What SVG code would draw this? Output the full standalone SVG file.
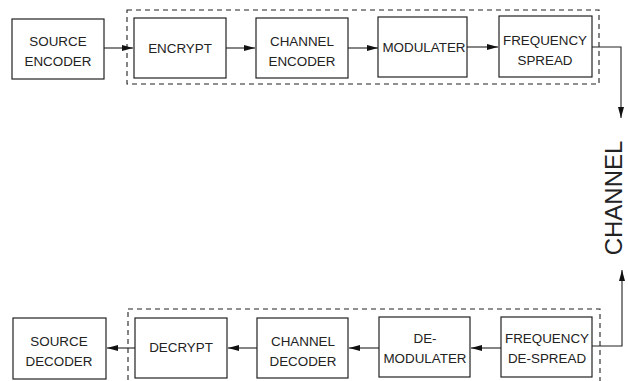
<svg xmlns="http://www.w3.org/2000/svg" width="628" height="381" viewBox="0 0 628 381">
<defs>
<marker id="ah" viewBox="0 0 11 6" refX="11" refY="3" markerWidth="11" markerHeight="6" markerUnits="userSpaceOnUse" orient="auto">
<path d="M0,0 L11,3 L0,6 Z" fill="#111"/>
</marker>
<style>
.box{fill:#fff;stroke:#222;stroke-width:1.2}
.grp{fill:none;stroke:#222;stroke-width:1.1;stroke-dasharray:5,4}
.t{font-family:"Liberation Sans",Arial,sans-serif;font-size:13.4px;fill:#222;text-anchor:middle}
.c{fill:none;stroke:#222;stroke-width:1.1;marker-end:url(#ah)}
</style>
</defs>
<rect width="628" height="381" fill="#fff"/>
<g id="groups">
<rect class="grp" x="127" y="10" width="472" height="74"/>
<rect class="grp" x="128" y="309" width="472" height="90"/>
</g>
<g id="connectors">
<line class="c" x1="104" y1="48" x2="133" y2="48"/>
<line class="c" x1="226" y1="48" x2="255" y2="48"/>
<line class="c" x1="348" y1="48" x2="378" y2="48"/>
<line class="c" x1="467" y1="47" x2="498" y2="47"/>
<polyline class="c" points="592,47 621,47 621,118"/>
<polyline class="c" points="592,346 622,346 622,270"/>
<line class="c" x1="501" y1="348" x2="471" y2="348"/>
<line class="c" x1="379" y1="348" x2="349" y2="348"/>
<line class="c" x1="257" y1="348" x2="228" y2="348"/>
<line class="c" x1="135" y1="348" x2="107" y2="348"/>
</g>
<g id="source-encoder"><rect class="box" x="12" y="19" width="92" height="60"/><text class="t" x="58" y="46">SOURCE</text><text class="t" x="58" y="66">ENCODER</text></g>
<g id="encrypt"><rect class="box" x="134" y="18" width="92" height="60"/><text class="t" x="180" y="53">ENCRYPT</text></g>
<g id="channel-encoder"><rect class="box" x="256" y="18" width="92" height="60"/><text class="t" x="302" y="46">CHANNEL</text><text class="t" x="302" y="66">ENCODER</text></g>
<g id="modulater"><rect class="box" x="378" y="17" width="89" height="60"/><text class="t" x="424" y="52">MODULATER</text></g>
<g id="frequency-spread"><rect class="box" x="499" y="16" width="93" height="61"/><text class="t" x="545" y="45">FREQUENCY</text><text class="t" x="545" y="65">SPREAD</text></g>
<g id="channel"><text font-family="'Liberation Sans',Arial,sans-serif" font-size="24" fill="#222" text-anchor="middle" transform="translate(622,198) rotate(-90)">CHANNEL</text></g>
<g id="source-decoder"><rect class="box" x="13" y="318" width="93" height="61"/><text class="t" x="59" y="346">SOURCE</text><text class="t" x="59" y="366">DECODER</text></g>
<g id="decrypt"><rect class="box" x="135" y="318" width="92" height="60"/><text class="t" x="181" y="352">DECRYPT</text></g>
<g id="channel-decoder"><rect class="box" x="257" y="318" width="91" height="60"/><text class="t" x="303" y="346">CHANNEL</text><text class="t" x="303" y="366">DECODER</text></g>
<g id="demodulater"><rect class="box" x="379" y="317" width="91" height="60"/><text class="t" x="425" y="343">DE-</text><text class="t" x="425" y="363">MODULATER</text></g>
<g id="frequency-despread"><rect class="box" x="501" y="317" width="91" height="60"/><text class="t" x="547" y="343">FREQUENCY</text><text class="t" x="547" y="363">DE-SPREAD</text></g>
</svg>
